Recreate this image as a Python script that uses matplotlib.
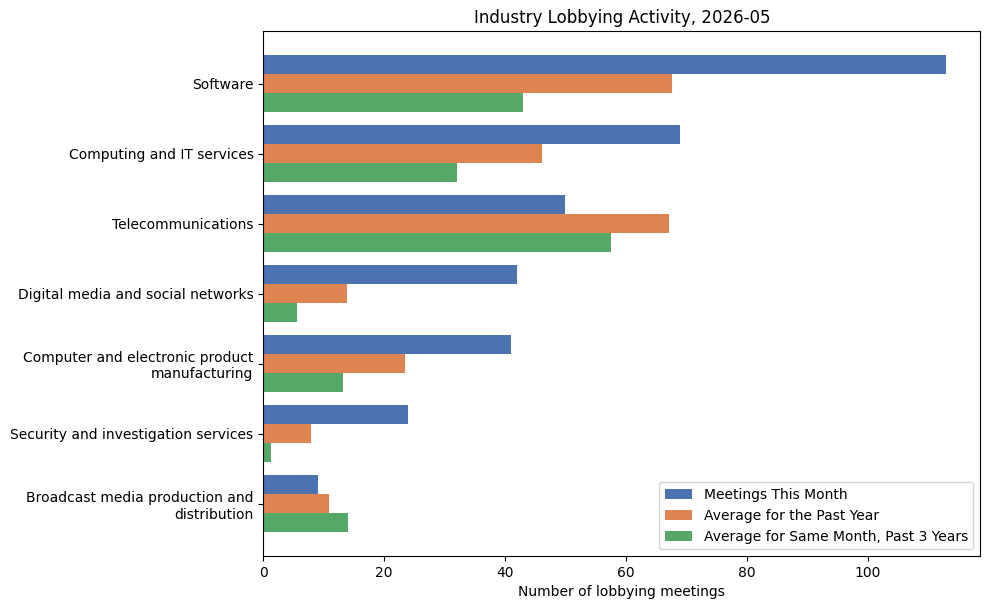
import numpy as np
import matplotlib
matplotlib.use("Agg")
import matplotlib.pyplot as plt

# Industry categories (top to bottom)
industries = [
    "Software",
    "Computing and IT services",
    "Telecommunications",
    "Digital media and social networks",
    "Computer and electronic product\nmanufacturing",
    "Security and investigation services",
    "Broadcast media production and\ndistribution",
]

this_month = [113, 69, 50, 42, 41, 24, 9]
past_year_avg = [67.7, 46.1, 67.1, 13.9, 23.5, 7.9, 10.9]
same_month_3yr = [43, 32, 57.6, 5.6, 13.2, 1.3, 14]

colors = ["#4c72b0", "#dd8452", "#55a868"]

fig, ax = plt.subplots(figsize=(9.89, 6.09), dpi=100)
fig.subplots_adjust(left=0.2662, right=0.9912, top=0.9483, bottom=0.087)

y = np.arange(len(industries))
h = 0.27

ax.barh(y - h, this_month, height=h, color=colors[0], label="Meetings This Month")
ax.barh(y, past_year_avg, height=h, color=colors[1], label="Average for the Past Year")
ax.barh(y + h, same_month_3yr, height=h, color=colors[2],
        label="Average for Same Month, Past 3 Years")

ax.set_yticks(y)
ax.set_yticklabels(industries)
ax.invert_yaxis()

ax.set_xlabel("Number of lobbying meetings")
ax.set_title("Industry Lobbying Activity, 2026-05")
ax.legend(loc="lower right")

fig.savefig("out.png")
